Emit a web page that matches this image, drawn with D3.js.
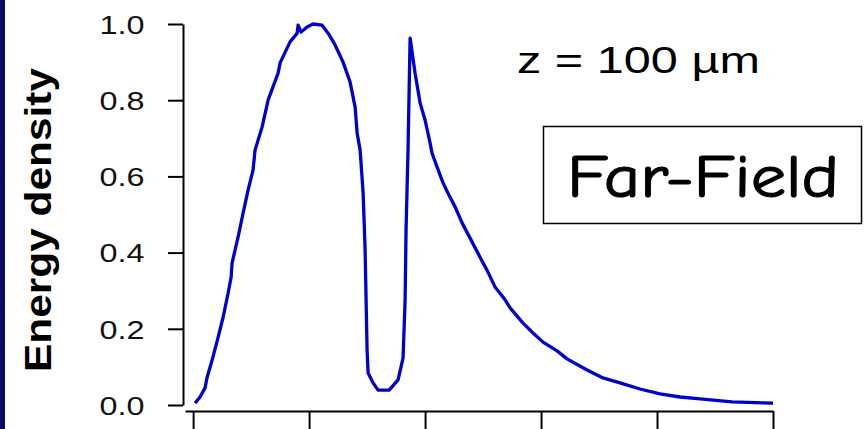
<!DOCTYPE html>
<html>
<head>
<meta charset="utf-8">
<script src="https://cdn.jsdelivr.net/npm/d3@7"></script>
<style>
  body { margin: 0; background: #fff; }
  svg { display: block; }
</style>
</head>
<body>
<div id="chart"></div>
<script>
// values
const position = [0.017, 0.060, 0.103, 0.121, 0.164, 0.216, 0.259, 0.302, 0.328, 0.336,
  0.388, 0.431, 0.474, 0.517, 0.534, 0.595, 0.647, 0.733, 0.750, 0.836,
  0.897, 0.905, 0.931, 0.983, 1.034, 1.112, 1.164, 1.224, 1.293, 1.353,
  1.397, 1.414, 1.440, 1.466, 1.483, 1.500, 1.509, 1.552, 1.595, 1.690,
  1.767, 1.810, 1.828, 1.836, 1.853, 1.871, 1.914, 1.957, 2.000, 2.043,
  2.060, 2.103, 2.155, 2.198, 2.259, 2.319, 2.388, 2.474, 2.534, 2.603,
  2.690, 2.733, 2.845, 2.931, 3.017, 3.138, 3.224, 3.397, 3.534, 3.681,
  3.853, 4.026, 4.198, 4.371, 4.647, 5.000];
const energy = [0.005, 0.021, 0.045, 0.073, 0.118, 0.178, 0.231, 0.294, 0.336, 0.373,
  0.441, 0.504, 0.564, 0.617, 0.669, 0.730, 0.801, 0.871, 0.898, 0.953,
  0.976, 0.997, 0.979, 0.992, 1.000, 0.997, 0.976, 0.945, 0.900, 0.848,
  0.782, 0.714, 0.669, 0.556, 0.407, 0.144, 0.084, 0.058, 0.039, 0.039,
  0.066, 0.123, 0.276, 0.459, 0.669, 0.963, 0.871, 0.793, 0.748, 0.688,
  0.661, 0.625, 0.583, 0.556, 0.520, 0.478, 0.438, 0.388, 0.354, 0.310,
  0.276, 0.255, 0.215, 0.189, 0.165, 0.142, 0.121, 0.092, 0.071, 0.058,
  0.042, 0.029, 0.021, 0.016, 0.008, 0.005];
const xTicks = [0, 1, 2, 3, 4, 5];
const yTicks = [0, 0.2, 0.4, 0.6, 0.8, 1.0];

const width = 865;
const height = 429;

const svg = d3.select("#chart").append("svg")
  .attr("width", width)
  .attr("height", height)
  .style("background", "#fff");

// dark stripe on the left edge
svg.append("rect")
  .attr("x", 0).attr("y", 0)
  .attr("width", 5).attr("height", height)
  .attr("fill", "#0b0b62");

const x = d3.scaleLinear().domain([-0.07, 5]).range([185, 773]);
const y = d3.scaleLinear().domain([0, 1]).range([405, 24]);

// y axis
const yAxis = svg.append("g")
  .attr("transform", "translate(183,0)")
  .call(d3.axisLeft(y).tickValues(yTicks).tickSize(15).tickSizeOuter(0)
    .tickFormat(d3.format(".1f")));
yAxis.selectAll("path, line").attr("stroke", "#000").attr("stroke-width", 2);
yAxis.selectAll("text")
  .attr("x", -38.5)
  .attr("dy", "0.36em")
  .attr("fill", "#111")
  .attr("font-family", "Arial, 'Liberation Sans', sans-serif")
  .attr("font-size", 26)
  .attr("textLength", 45)
  .attr("lengthAdjust", "spacingAndGlyphs");

// x axis (labels fall below the frame)
const xAxis = svg.append("g")
  .attr("transform", "translate(0,411)")
  .call(d3.axisBottom(x).tickValues(xTicks).tickSize(20).tickSizeOuter(0)
    .tickFormat(""));
xAxis.selectAll("path, line").attr("stroke", "#000").attr("stroke-width", 2);

// curve
const line = d3.line()
  .x((d, i) => x(position[i]))
  .y(d => y(d));

svg.append("path")
  .datum(energy)
  .attr("fill", "none")
  .attr("stroke", "#0000cc")
  .attr("stroke-width", 3.3)
  .attr("stroke-linejoin", "round")
  .attr("d", line);

// axis title
svg.append("text")
  .attr("transform", "translate(51,220) rotate(-90)")
  .attr("text-anchor", "middle")
  .attr("font-family", "Arial, 'Liberation Sans', sans-serif")
  .attr("font-weight", "bold")
  .attr("font-size", 36)
  .attr("fill", "#000")
  .attr("textLength", 304)
  .attr("lengthAdjust", "spacingAndGlyphs")
  .text("Energy density");

// annotation
svg.append("text")
  .attr("x", 517)
  .attr("y", 73)
  .attr("font-family", "Arial, 'Liberation Sans', sans-serif")
  .attr("font-size", 37)
  .attr("fill", "#000")
  .attr("textLength", 243)
  .attr("lengthAdjust", "spacingAndGlyphs")
  .text("z = 100 µm");

// boxed label
svg.append("rect")
  .attr("x", 543.5).attr("y", 126.5)
  .attr("width", 318).attr("height", 97)
  .attr("fill", "none")
  .attr("stroke", "#000")
  .attr("stroke-width", 1.5);

svg.append("text")
  .attr("x", 567)
  .attr("y", 197)
  .attr("font-family", "'Comic Sans MS', 'Comic Neue', 'DejaVu Sans', sans-serif")
  .attr("font-size", 60)
  .attr("fill", "#000")
  .attr("stroke", "#000")
  .attr("stroke-width", 1.2)
  .attr("textLength", 272)
  .attr("lengthAdjust", "spacingAndGlyphs")
  .text("Far-Field");
</script>
</body>
</html>
